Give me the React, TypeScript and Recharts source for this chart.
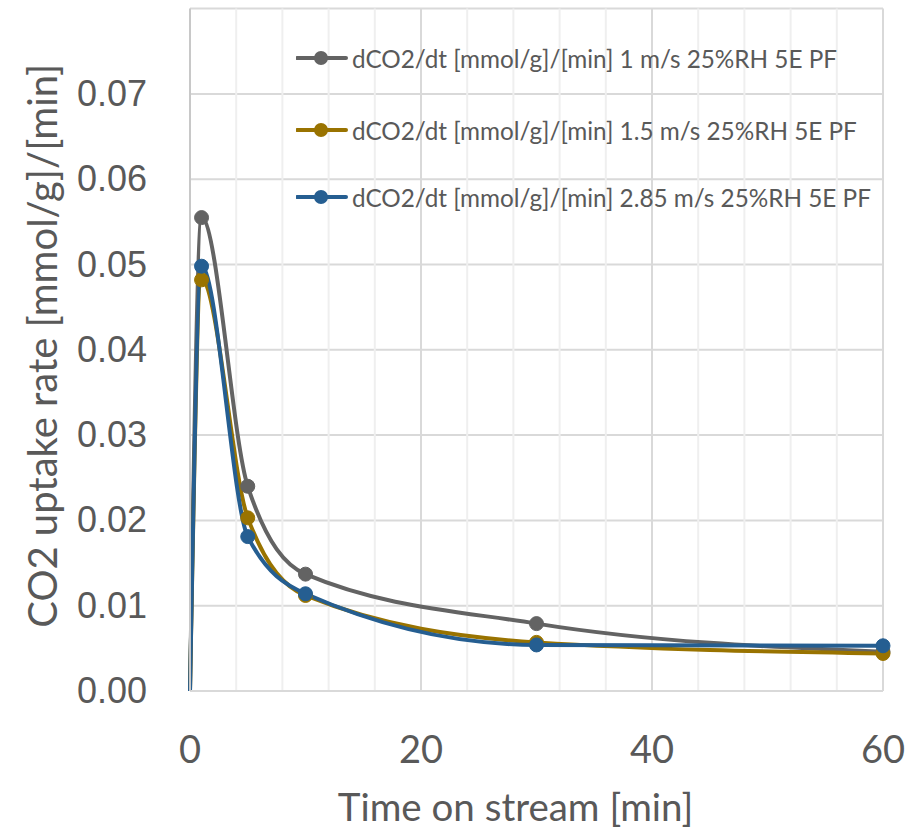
import React from 'react';
import { LineChart, Line, XAxis, YAxis, CartesianGrid, ReferenceLine, Legend } from 'recharts';

const times = [0, 1, 5, 10, 30, 60];
const rate1ms = [0, 0.0555, 0.0240, 0.0137, 0.0079, 0.0046];
const rate15ms = [0, 0.0482, 0.0203, 0.0112, 0.0057, 0.0044];
const rate285ms = [0, 0.0498, 0.0181, 0.0114, 0.0054, 0.0053];

const seriesKeys = ['s1', 's2', 's3'];
const seriesNames = [
  'dCO2/dt [mmol/g]/[min] 1 m/s 25%RH 5E PF',
  'dCO2/dt [mmol/g]/[min] 1.5 m/s 25%RH 5E PF',
  'dCO2/dt [mmol/g]/[min] 2.85 m/s 25%RH 5E PF',
];
const seriesColors = ['#636363', '#997300', '#255E91'];

const xTicks = [0, 20, 40, 60];
const yTicks = [0, 0.01, 0.02, 0.03, 0.04, 0.05, 0.06, 0.07];
const minorX = [4, 8, 12, 16, 24, 28, 32, 36, 44, 48, 52, 56];
const majorX = [20, 40];

const xTitle = 'Time on stream [min]';
const yTitle = 'CO2 uptake rate [mmol/g]/[min]';

const data = times.map((t, i) => ({ t, s1: rate1ms[i], s2: rate15ms[i], s3: rate285ms[i] }));

const CAL = 'Lato, "Open Sans", sans-serif';
const TXT = '#595959';

const makeDot = (color: string) => (props: any) => {
  const { cx, cy, index } = props;
  if (index === 0) return <g key={`d${index}`} />;
  return <circle key={`d${index}`} cx={cx} cy={cy} r={7} fill={color} stroke={color} strokeWidth={1} />;
};

const legendTops = [0, 72, 139];

const LegendContent = (props: any) => {
  const payload = props.payload || [];
  return (
    <div style={{ position: 'relative', width: 620, height: 200 }}>
      {payload.map((p: any, i: number) => (
        <div key={p.value} style={{ position: 'absolute', left: 0, top: legendTops[i], height: 30, display: 'flex', alignItems: 'center' }}>
          <svg width={56} height={20} style={{ display: 'block' }}>
            <line x1={1} y1={10} x2={50} y2={10} stroke={p.color} strokeWidth={4} strokeLinecap="round" />
            <circle cx={25} cy={10} r={7} fill={p.color} />
          </svg>
          <span style={{ fontFamily: CAL, fontSize: 24.3, color: TXT, whiteSpace: 'nowrap' }}>{p.value}</span>
        </div>
      ))}
    </div>
  );
};

const YTick = (props: any) => {
  const { y, payload } = props;
  return (
    <text x={147} y={y} dy={12} textAnchor="end" fontFamily='"Liberation Sans", Arial, sans-serif' fontSize={36} fill={TXT}>
      {payload.value.toFixed(2)}
    </text>
  );
};

const XTick = (props: any) => {
  const { x, payload } = props;
  return (
    <text x={x} y={763} textAnchor="middle" fontFamily={CAL} fontSize={38} fill={TXT}>
      {payload.value}
    </text>
  );
};

const XTitle = (props: any) => {
  const vb = props.viewBox || { x: 190, width: 693, y: 691 };
  return (
    <text x={vb.x + vb.width / 2 - 21} y={821} textAnchor="middle" fontFamily={CAL} fontSize={38.5} fill={TXT}>
      {xTitle}
    </text>
  );
};

const YTitle = (props: any) => {
  const vb = props.viewBox || { y: 8.6, height: 682 };
  const cy = vb.y + vb.height / 2 - 4;
  return (
    <text transform={`translate(57, ${cy}) rotate(-90)`} x={0} y={0} textAnchor="middle" fontFamily={CAL} fontSize={40} fill={TXT}>
      {yTitle}
    </text>
  );
};

export default function App() {
  return (
    <div style={{ position: 'absolute', left: 0, top: 0, width: 924, height: 831, background: '#fff' }}>
      <LineChart width={924} height={831} data={data} margin={{ top: 8.6, right: 41, left: 0, bottom: 0 }}>
        <CartesianGrid vertical={false} stroke="#d9d9d9" strokeWidth={2} />
        {minorX.map((v) => (
          <ReferenceLine key={`m${v}`} x={v} stroke="#efefef" strokeWidth={2} />
        ))}
        {majorX.map((v) => (
          <ReferenceLine key={`M${v}`} x={v} stroke="#d9d9d9" strokeWidth={2} />
        ))}
        <ReferenceLine x={60} stroke="#d9d9d9" strokeWidth={2} />
        <XAxis
          dataKey="t"
          type="number"
          domain={[0, 60]}
          ticks={xTicks}
          height={140}
          tickLine={false}
          axisLine={{ stroke: '#d9d9d9', strokeWidth: 2 }}
          tick={<XTick />}
          label={{ content: <XTitle /> }}
        />
        <YAxis
          type="number"
          domain={[0, 0.08]}
          ticks={yTicks}
          width={190}
          tickLine={false}
          axisLine={{ stroke: '#c8c8c8', strokeWidth: 2 }}
          tick={<YTick />}
          label={{ content: <YTitle /> }}
        />
        <Legend
          layout="vertical"
          verticalAlign="middle"
          align="center"
          content={<LegendContent />}
          wrapperStyle={{ position: 'absolute', left: 296, top: 43, width: 620, height: 200 }}
        />
        {seriesKeys.map((k, i) => (
          <Line
            key={k}
            dataKey={k}
            name={seriesNames[i]}
            type="monotone"
            stroke={seriesColors[i]}
            strokeWidth={4}
            dot={makeDot(seriesColors[i])}
            activeDot={false}
            isAnimationActive={false}
          />
        ))}
      </LineChart>
    </div>
  );
}
